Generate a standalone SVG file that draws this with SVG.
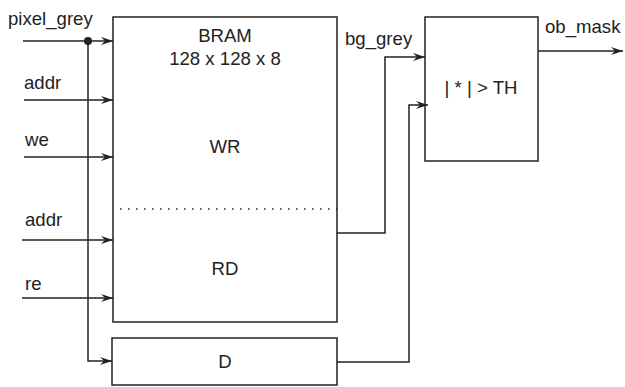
<svg xmlns="http://www.w3.org/2000/svg" width="625" height="387" viewBox="0 0 625 387">
<style>
text{font-family:"Liberation Sans",Arial,sans-serif;font-size:18.6px;fill:#222}
.c{text-anchor:middle}
.box{fill:#fff;stroke:#222;stroke-width:1.5}
.w{fill:none;stroke:#222;stroke-width:1.5}
</style>
<defs>
<marker id="ah" viewBox="0 0 12 8" refX="12" refY="4" markerWidth="12" markerHeight="8" markerUnits="userSpaceOnUse" orient="auto">
<path d="M0,0 L12,4 L0,8 L4,4 Z" fill="#222"/>
</marker>
</defs>
<rect width="625" height="387" fill="#fff"/>
<g id="bram">
<rect class="box" x="113" y="17" width="224" height="305"/>
<text class="c" x="225" y="42">BRAM</text>
<text class="c" x="225" y="65">128 x 128 x 8</text>
<text class="c" x="225" y="153">WR</text>
<text class="c" x="225" y="275">RD</text>
<line x1="120" y1="209" x2="337" y2="209" stroke="#222" stroke-width="1.5" stroke-dasharray="1.5 6.5"/>
</g>
<g id="delay">
<rect class="box" x="112" y="338" width="225" height="47"/>
<text class="c" x="225" y="368">D</text>
</g>
<g id="threshold">
<rect class="box" x="425" y="17" width="113" height="144"/>
<text class="c" x="481" y="94">| * | &gt; TH</text>
</g>
<g id="labels">
<text x="8" y="25">pixel_grey</text>
<text x="24" y="89">addr</text>
<text x="25" y="146">we</text>
<text x="25" y="226">addr</text>
<text x="25" y="290">re</text>
<text x="345" y="45">bg_grey</text>
<text x="545" y="33">ob_mask</text>
</g>
<g id="connectors">
<line class="w" x1="23" y1="41" x2="113" y2="41" marker-end="url(#ah)"/>
<circle cx="88" cy="41" r="4" fill="#222"/>
<polyline class="w" points="88,41 88,361 112,361" marker-end="url(#ah)"/>
<line class="w" x1="24" y1="100" x2="113" y2="100" marker-end="url(#ah)"/>
<line class="w" x1="24" y1="157" x2="113" y2="157" marker-end="url(#ah)"/>
<line class="w" x1="22" y1="240" x2="113" y2="240" marker-end="url(#ah)"/>
<line class="w" x1="22" y1="298" x2="113" y2="298" marker-end="url(#ah)"/>
<polyline class="w" points="337,233 385,233 385,57 425,57" marker-end="url(#ah)"/>
<polyline class="w" points="337,362 409,362 409,105 428,105" marker-end="url(#ah)"/>
<line class="w" x1="538" y1="51" x2="623" y2="51" marker-end="url(#ah)"/>
</g>
</svg>
